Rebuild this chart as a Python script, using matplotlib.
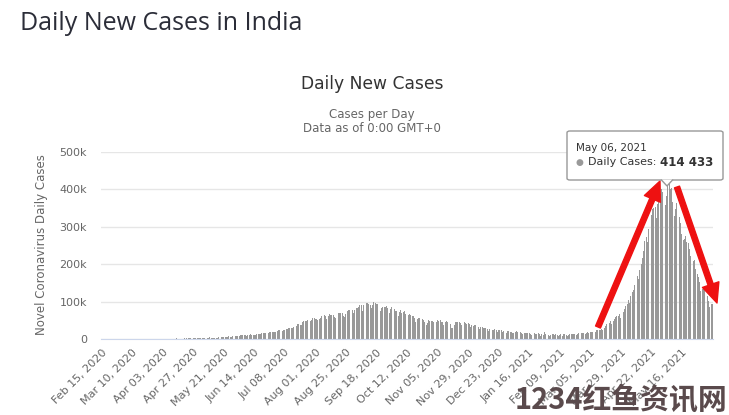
import matplotlib
matplotlib.use('Agg')
import matplotlib.pyplot as plt
from matplotlib.patches import FancyBboxPatch, FancyArrowPatch, Polygon
import pandas as pd


# daily new cases, one list per month (Feb 15, 2020 -> Jun 09, 2021)
feb_2020 = [0, 0, 0, 0, 0, 0, 0, 0, 0, 0, 0, 0, 0, 0, 0]
mar_2020 = [0, 2, 1, 22, 2, 1, 3, 5, 9, 15, 8, 10, 10, 23, 12, 19, 23, 15, 41, 55,
            86, 77, 103, 84, 88, 75, 151, 142, 106, 227, 146]
apr_2020 = [601, 545, 478, 578, 513, 637, 508, 485, 591, 896, 768, 918, 796, 1463, 1054,
            1034, 835, 1108, 922, 1893, 1290, 1383, 1409, 1684, 1429, 1990, 1396, 1543, 1897, 1718]
may_2020 = [2062, 2396, 2564, 3656, 2971, 3602, 3344, 3339, 3175, 4311, 3592, 3562, 3726, 3991,
            3808, 3970, 5050, 4630, 6147, 5553, 5720, 6023, 6536, 6667, 7113, 6414, 6387, 7246,
            7254, 8138, 8789]
jun_2020 = [7723, 8821, 9633, 9889, 9471, 10408, 10882, 8442, 9987, 10956, 12375, 11929, 11502,
            10667, 10032, 13103, 12881, 13586, 14516, 15413, 14821, 14933, 15968, 16922, 17296,
            18552, 19906, 19459, 18522, 18653]
jul_2020 = [19148, 20903, 22771, 24850, 24248, 22252, 22752, 24879, 26506, 27114, 28637, 28701,
            28498, 29429, 32695, 34956, 34884, 38902, 40425, 37148, 37724, 45720, 49310, 48916,
            48661, 49931, 47703, 48513, 52123, 55078, 57118]
aug_2020 = [54735, 52972, 52050, 52509, 56282, 62538, 61537, 64399, 62064, 53601, 60963, 66999,
            64553, 65002, 63490, 57981, 55079, 64531, 69652, 68898, 69878, 69874, 61408, 59696,
            67151, 75760, 77266, 76472, 78761, 78512, 69921]
sep_2020 = [78357, 83883, 83341, 86432, 90632, 90802, 75809, 89706, 95735, 96551, 97570, 94372,
            92071, 83809, 90123, 97894, 96424, 93337, 92605, 86961, 75083, 83347, 86508, 86052,
            85362, 88600, 82170, 70589, 80472, 86821]
oct_2020 = [81484, 79476, 75829, 74442, 61267, 72049, 78524, 70496, 73272, 74383, 66732, 55342,
            63509, 67708, 63371, 62212, 61871, 55722, 46791, 54044, 56571, 55839, 54366, 53370,
            50129, 45148, 36470, 43893, 49881, 48648, 46963]
nov_2020 = [46964, 45231, 38310, 46253, 50210, 47638, 50357, 45674, 45903, 38074, 44281, 47905,
            44879, 44684, 41100, 30548, 29163, 38617, 45576, 45882, 46232, 45209, 44059, 37975,
            44376, 44489, 43082, 41322, 41810, 38772]
dec_2020 = [31118, 36604, 35551, 36594, 36652, 36011, 32981, 26567, 32080, 31521, 29398, 30006,
            30254, 27071, 22065, 26382, 24010, 22890, 25152, 26624, 24337, 19556, 23950, 24712,
            23067, 18732, 22273, 20021, 16432, 20550, 21822]
jan_2021 = [19079, 18177, 16504, 16375, 18088, 20346, 18139, 18222, 18645, 16311, 12584, 15968,
            16946, 15590, 15158, 15144, 13788, 10064, 13823, 15223, 14545, 14256, 14849, 13203,
            9102, 12689, 11666, 18855, 13083, 13052, 11427]
feb_2021 = [8635, 11039, 12899, 12408, 11713, 12059, 11831, 9110, 11067, 12923, 9309, 12143,
            12194, 11649, 9121, 11610, 12881, 13193, 13993, 14264, 14199, 10584, 13742, 16738,
            16577, 16488, 16752, 15510]
mar_2021 = [12286, 14989, 17407, 16838, 18327, 18711, 18599, 15388, 17921, 22854, 23285, 24882,
            25320, 26291, 24492, 28903, 35871, 39726, 40953, 43846, 46951, 40715, 47262, 53476,
            59118, 62258, 62714, 68020, 56211, 53480, 72330]
apr_2021 = [81466, 89129, 93249, 103558, 96982, 115736, 126789, 131968, 145384, 152879, 168912,
            161736, 184372, 200739, 217353, 234692, 261500, 273810, 259170, 295041, 314835,
            332730, 346786, 349691, 352991, 323144, 360960, 379257, 386452, 401993]
may_2021 = [392488, 368147, 357229, 382315, 412262, 414433, 401078, 403405, 366161, 329517,
            348421, 362727, 343144, 326098, 311170, 281386, 263533, 267334, 276110, 259551,
            257299, 240842, 222315, 196427, 208921, 211298, 186364, 173790, 165553, 152734, 127510]
jun_2021 = [132788, 134154, 132364, 120529, 114460, 100636, 86498, 92596, 94052]

daily_cases = (feb_2020 + mar_2020 + apr_2020 + may_2020 + jun_2020 + jul_2020 + aug_2020 +
               sep_2020 + oct_2020 + nov_2020 + dec_2020 + jan_2021 + feb_2021 + mar_2021 +
               apr_2021 + may_2021 + jun_2021)
dates = pd.date_range('2020-02-15', periods=len(daily_cases), freq='D')

tick_dates = pd.date_range('2020-02-15', periods=20, freq='24D')
tick_labels = [d.strftime('%b %d, %Y') for d in tick_dates]
y_ticks = [0, 100000, 200000, 300000, 400000, 500000]
y_labels = ['0', '100k', '200k', '300k', '400k', '500k']

W, H = 729, 415
def fx(x):
    return x / W
def fy(y):
    return 1 - y / H

fig = plt.figure(figsize=(W / 100, H / 100), dpi=100)
ax = fig.add_axes([fx(101), fy(339), (713 - 101) / W, (339 - 152) / H])

ax.bar(dates, daily_cases, width=0.72, color='#999999', linewidth=0, zorder=2)
ax.set_ylim(0, 500000)
ax.set_xlim(dates[0] - pd.Timedelta(hours=12), dates[-1] + pd.Timedelta(hours=12))
ax.set_yticks(y_ticks)
ax.set_yticklabels(y_labels)
ax.set_xticks(tick_dates)
ax.set_xticklabels(tick_labels, rotation=45, ha='right', rotation_mode='anchor')
ax.grid(axis='y', color='#e6e6e6', lw=1, zorder=0)
ax.set_axisbelow(True)
for s in ['top', 'right', 'left']:
    ax.spines[s].set_visible(False)
ax.spines['bottom'].set_color('#ccd6eb')
ax.tick_params(axis='both', length=0, colors='#666666', labelsize=8)
ax.tick_params(axis='y', pad=10)
ax.tick_params(axis='x', pad=6)

# titles
fig.text(fx(20), fy(23), 'Daily New Cases in India', fontsize=18, color='#2b2d38',
         va='center', family='Open Sans')
fig.text(fx(372), fy(84), 'Daily New Cases', fontsize=12.3, color='#333333', ha='center', va='center')
fig.text(fx(372), fy(114), 'Cases per Day', fontsize=8.5, color='#666666', ha='center', va='center')
fig.text(fx(372), fy(128), 'Data as of 0:00 GMT+0', fontsize=8.5, color='#666666',
         ha='center', va='center')
fig.text(fx(42), fy(245), 'Novel Coronavirus Daily Cases', rotation=90, fontsize=8.5,
         color='#666666', ha='center', va='center')

# red arrows
for a, b in [((598, 327), (660, 181)), ((677, 187), (717, 303))]:
    arr = FancyArrowPatch((fx(a[0]), fy(a[1])), (fx(b[0]), fy(b[1])), transform=fig.transFigure,
                          arrowstyle='simple,head_length=1.4,head_width=1.25,tail_width=0.38',
                          mutation_scale=10, color='#ee1111', shrinkA=0, shrinkB=0)
    fig.patches.append(arr)

# tooltip
box = FancyBboxPatch((fx(567), fy(180)), (723 - 567) / W, (180 - 131) / H,
                     boxstyle='round,pad=0,rounding_size=0.004', transform=fig.transFigure,
                     fc='white', ec='#999999', lw=1, zorder=5)
fig.patches.append(box)
ptr = Polygon([(fx(661), fy(179.5)), (fx(667), fy(186)), (fx(673), fy(179.5))],
              closed=False, transform=fig.transFigure, fc='white', ec='#999999', lw=1, zorder=6)
fig.patches.append(ptr)
fig.text(fx(576), fy(148), 'May 06, 2021', fontsize=7.5, color='#333333', va='center', zorder=7)
fig.text(fx(575), fy(162), '\u25cf', fontsize=6.5, color='#999999', va='center', zorder=7)
fig.text(fx(588), fy(162), 'Daily Cases:', fontsize=8, color='#333333', va='center', zorder=7)
fig.text(fx(660), fy(162), '414 433', fontsize=8.5, color='#333333', fontweight='bold',
         va='center', zorder=7)

# watermark
fig.text(fx(515), fy(399), '1234红鱼资讯网', fontsize=20.8, fontweight='bold', color='#5a4a4c',
         family=['Noto Sans CJK SC', 'DejaVu Sans'], va='center', zorder=8)

fig.savefig('out.png', dpi=100)
